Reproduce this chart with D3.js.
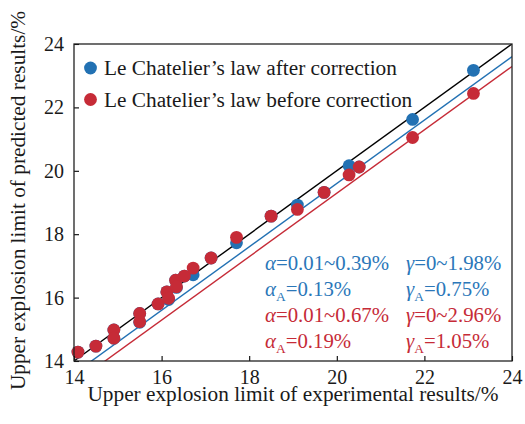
<!DOCTYPE html>
<html>
<head>
<meta charset="utf-8">
<script src="https://cdn.jsdelivr.net/npm/d3@7"></script>
<style>
  html, body { margin: 0; padding: 0; background: #fff; }
  svg { display: block; }
  text { font-family: "Liberation Serif", "Times New Roman", serif; }
</style>
</head>
<body>
<svg id="chart" width="525" height="424"></svg>
<script>
// Experimental upper explosion limits (%) and predictions
const experimental = [14.09, 14.50, 14.91, 14.91, 15.50, 15.50, 15.92, 16.12, 16.16, 16.32, 16.34, 16.52, 16.72, 17.13, 17.71, 18.50, 19.10, 19.71, 20.28, 20.51, 21.73, 23.12];
const predictedAfter = [14.28, 14.47, 14.98, 14.72, 15.50, 15.22, 15.80, 16.18, 15.94, 16.55, 16.32, 16.68, 16.72, 17.25, 17.73, 18.57, 18.92, 19.32, 20.16, 20.12, 21.62, 23.17];
const predictedBefore = [14.28, 14.47, 14.98, 14.72, 15.50, 15.24, 15.80, 16.18, 15.98, 16.55, 16.34, 16.68, 16.93, 17.25, 17.90, 18.57, 18.78, 19.32, 19.87, 20.12, 21.05, 22.44];

const seriesNames = ["Le Chatelier\u2019s law after correction", "Le Chatelier\u2019s law before correction"];
const seriesColors = ["#2271b3", "#c62b37"];

// Reference line y = x and the two fitted lines (slope, intercept)
const fitSlopes = [1, 1, 1];
const fitIntercepts = [0, -0.40, -0.71];
const fitColors = ["#000000", "#2271b3", "#c62b37"];

const xTicks = [14, 16, 18, 20, 22, 24];
const yTicks = [14, 16, 18, 20, 22, 24];

// Error statistics: [symbol, subscript, value]
const statsAfter = [["α", "", "=0.01~0.39%"], ["γ", "", "=0~1.98%"], ["α", "A", "=0.13%"], ["γ", "A", "=0.75%"]];
const statsBefore = [["α", "", "=0.01~0.67%"], ["γ", "", "=0~2.96%"], ["α", "A", "=0.19%"], ["γ", "A", "=1.05%"]];

const W = 525, H = 424;
const margin = { top: 44, right: 13, bottom: 63, left: 74 };
const iw = W - margin.left - margin.right;
const ih = H - margin.top - margin.bottom;

const svg = d3.select("#chart");
const g = svg.append("g").attr("transform", `translate(${margin.left},${margin.top})`);

const x = d3.scaleLinear().domain([14, 24]).range([0, iw]);
const y = d3.scaleLinear().domain([14, 24]).range([ih, 0]);

svg.append("defs").append("clipPath").attr("id", "plotClip")
  .append("rect").attr("width", iw).attr("height", ih);

// Fitted lines
const lineGroup = g.append("g").attr("clip-path", "url(#plotClip)");
fitSlopes.forEach((k, i) => {
  const b = fitIntercepts[i];
  const x0 = 14, x1 = 24;
  lineGroup.append("line")
    .attr("x1", x(x0)).attr("y1", y(k * x0 + b))
    .attr("x2", x(x1)).attr("y2", y(k * x1 + b))
    .attr("stroke", fitColors[i]).attr("stroke-width", 1.4);
});

// Points: corrected first, uncorrected on top
const pts = g.append("g");
[predictedAfter, predictedBefore].forEach((vals, s) => {
  pts.selectAll(null).data(experimental).enter().append("circle")
    .attr("cx", d => x(d))
    .attr("cy", (d, i) => y(vals[i]))
    .attr("r", 6.4)
    .attr("fill", seriesColors[s]);
});

// Axes with inward ticks
const xAxis = g.append("g").attr("transform", `translate(0,${ih})`)
  .call(d3.axisBottom(x).tickValues(xTicks).tickSizeInner(-5).tickSizeOuter(0).tickPadding(9));
const yAxis = g.append("g")
  .call(d3.axisLeft(y).tickValues(yTicks).tickSizeInner(-5).tickSizeOuter(0).tickPadding(7));
[xAxis, yAxis].forEach(a => {
  a.attr("font-family", null);
  a.select(".domain").remove();
  a.selectAll("line").attr("stroke", "#000").attr("stroke-width", 1.1);
  a.selectAll("text").attr("font-size", 20).attr("fill", "#1a1a1a");
});
yAxis.selectAll("text").attr("dx", "-3");

// Frame
g.append("rect").attr("width", iw).attr("height", ih)
  .attr("fill", "none").attr("stroke", "#222").attr("stroke-width", 1.3);

// Axis titles
svg.append("text")
  .attr("x", margin.left + iw / 2).attr("y", 401)
  .attr("text-anchor", "middle").attr("font-size", 21.3).attr("fill", "#1a1a1a")
  .text("Upper explosion limit of experimental results/%");
svg.append("text")
  .attr("transform", `translate(25,${margin.top + ih / 2 - 2}) rotate(-90)`)
  .attr("text-anchor", "middle").attr("font-size", 21.3).attr("fill", "#1a1a1a")
  .text("Upper explosion limit of predicted results/%");

// Legend
const legend = g.append("g");
seriesNames.forEach((name, i) => {
  const ly = 24 + i * 31.5;
  legend.append("circle").attr("cx", 16.5).attr("cy", ly).attr("r", 6.4).attr("fill", seriesColors[i]);
  legend.append("text").attr("x", 30).attr("y", ly + 7)
    .attr("font-size", 21.3).attr("fill", "#1a1a1a").text(name);
});

// Statistics block
function drawStats(rows, color, top) {
  rows.forEach((r, i) => {
    const col = i % 2, row = Math.floor(i / 2);
    const t = svg.append("text")
      .attr("x", col === 0 ? 265 : 406)
      .attr("y", top + row * 26)
      .attr("font-size", 20.8).attr("fill", color);
    t.append("tspan").attr("font-style", "italic").text(r[0]);
    if (r[1]) {
      t.append("tspan").attr("font-size", 13.5).attr("dy", 5).text(r[1]);
      t.append("tspan").attr("dy", -5).text(r[2]);
    } else {
      t.append("tspan").text(r[2]);
    }
  });
}
drawStats(statsAfter, "#2b77b9", 270);
drawStats(statsBefore, "#c62b37", 322);
</script>
</body>
</html>
